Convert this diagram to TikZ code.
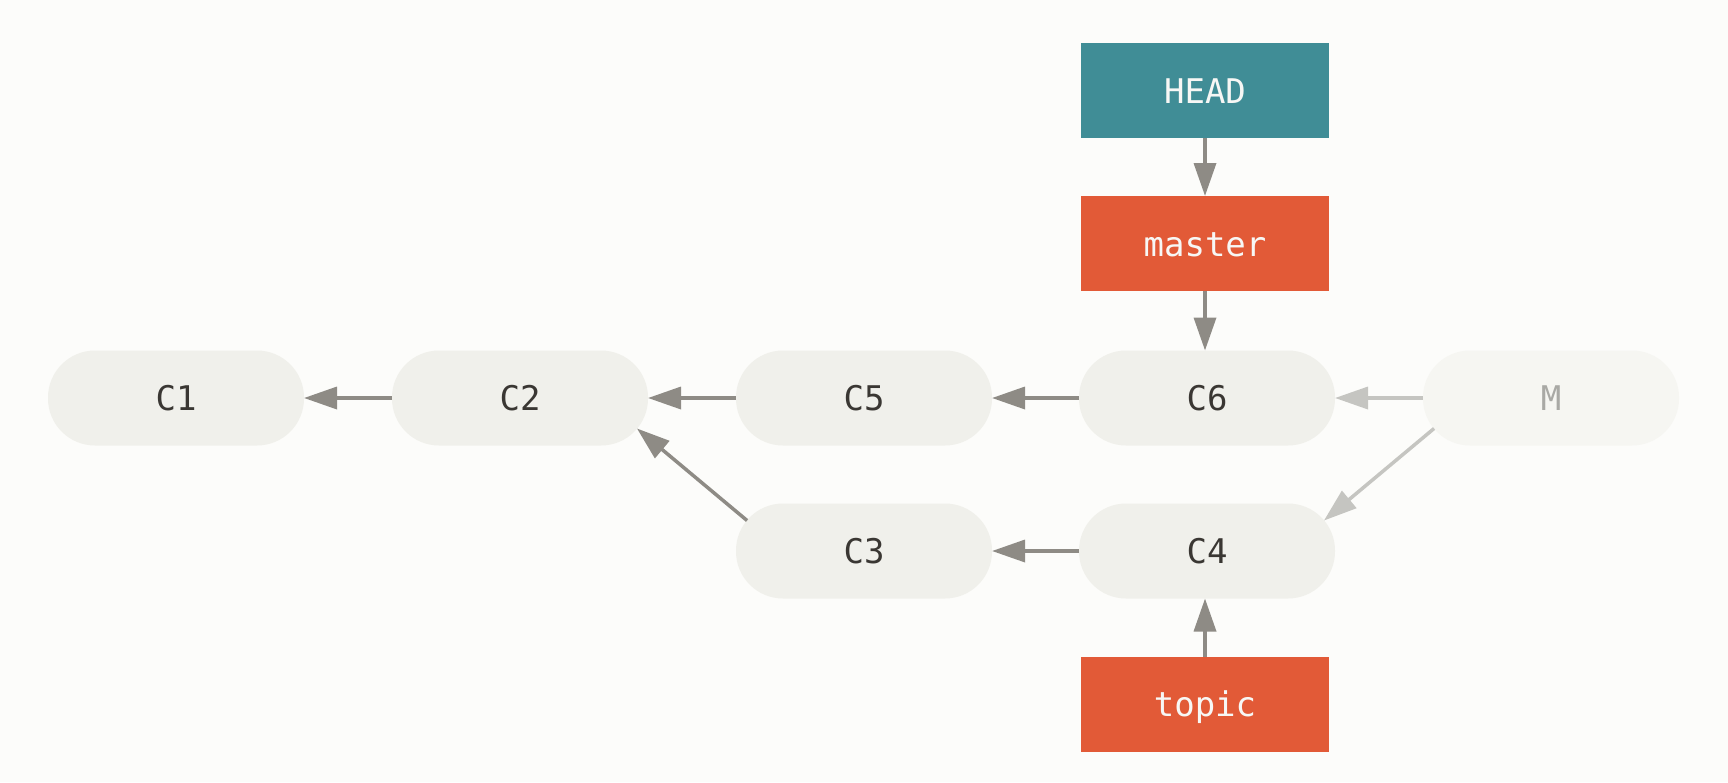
\documentclass[tikz,border=0pt]{standalone}
\usepackage{fontspec}
\setmonofont{DejaVu Sans Mono}
\usetikzlibrary{arrows.meta,calc}
\definecolor{bg}{HTML}{FCFCFA}
\definecolor{commitfill}{HTML}{F0F0EB}
\definecolor{mfill}{HTML}{F6F6F2}
\definecolor{committext}{HTML}{3A3733}
\definecolor{mtext}{HTML}{A9A9A5}
\definecolor{arrowdark}{HTML}{8E8B85}
\definecolor{arrowlight}{HTML}{C5C5C1}
\definecolor{headfill}{HTML}{408D96}
\definecolor{branchfill}{HTML}{E25A37}
\definecolor{reftext}{HTML}{F7F7F5}
\begin{document}
\begin{tikzpicture}[x=1pt,y=-1pt,
  base/.style={inner sep=0pt, outer sep=0pt, text height=25pt, text depth=0pt,
    font=\ttfamily\fontsize{34}{40}\selectfont},
  commit/.style={base, rectangle, rounded corners=47pt, fill=commitfill,
    minimum width=256pt, minimum height=95pt, text=committext},
  ghost/.style={commit, fill=mfill, text=mtext},
  ref/.style={base, rectangle, minimum width=248pt, minimum height=95pt, text=reftext},
  headref/.style={ref, fill=headfill},
  branchref/.style={ref, fill=branchfill},
  arr/.style={draw=arrowdark, line width=3.5pt, -{Triangle[length=33pt,width=22pt]}},
  arrlight/.style={arr, draw=arrowlight}
]
\fill[bg] (0,0) rectangle (1728,782);
\useasboundingbox (0,0) rectangle (1728,782);

\node[commit] (C1) at (176,398) {C1};
\node[commit] (C2) at (520,398) {C2};
\node[commit] (C5) at (864,398) {C5};
\node[commit] (C6) at (1207,398) {C6};
\node[ghost]  (M)  at (1551,398) {M};
\node[commit] (C3) at (864,551) {C3};
\node[commit] (C4) at (1207,551) {C4};

\node[headref]   (HEAD)   at (1205,90.5)  {HEAD};
\node[branchref] (master) at (1205,243.5) {master};
\node[branchref] (topic)  at (1205,704)   {topic};

% centres of the round ends
\coordinate (C3l) at ($(C3.west)+(47.5,0)$);
\coordinate (C2r) at ($(C2.east)+(-47.5,0)$);
\coordinate (Ml)  at ($(M.west)+(47.5,0)$);
\coordinate (C4r) at ($(C4.east)+(-47.5,0)$);

\draw[arr] (C2.west) -- (C1.east);
\draw[arr] (C5.west) -- (C2.east);
\draw[arr] (C6.west) -- (C5.east);
\draw[arrlight] (M.west) -- (C6.east);
\draw[arr] (C4.west) -- (C3.east);
\draw[arr] ($(C3l)!47.5pt!(C2r)$) -- ($(C2r)!47.5pt!(C3l)$);
\draw[arrlight] ($(Ml)!47.5pt!(C4r)$) -- ($(C4r)!47.5pt!(Ml)$);

\draw[arr] (HEAD.south) -- (master.north);
\draw[arr] (master.south) -- (C6.north -| master.south);
\draw[arr] (topic.north) -- (C4.south -| topic.north);
\end{tikzpicture}
\end{document}
